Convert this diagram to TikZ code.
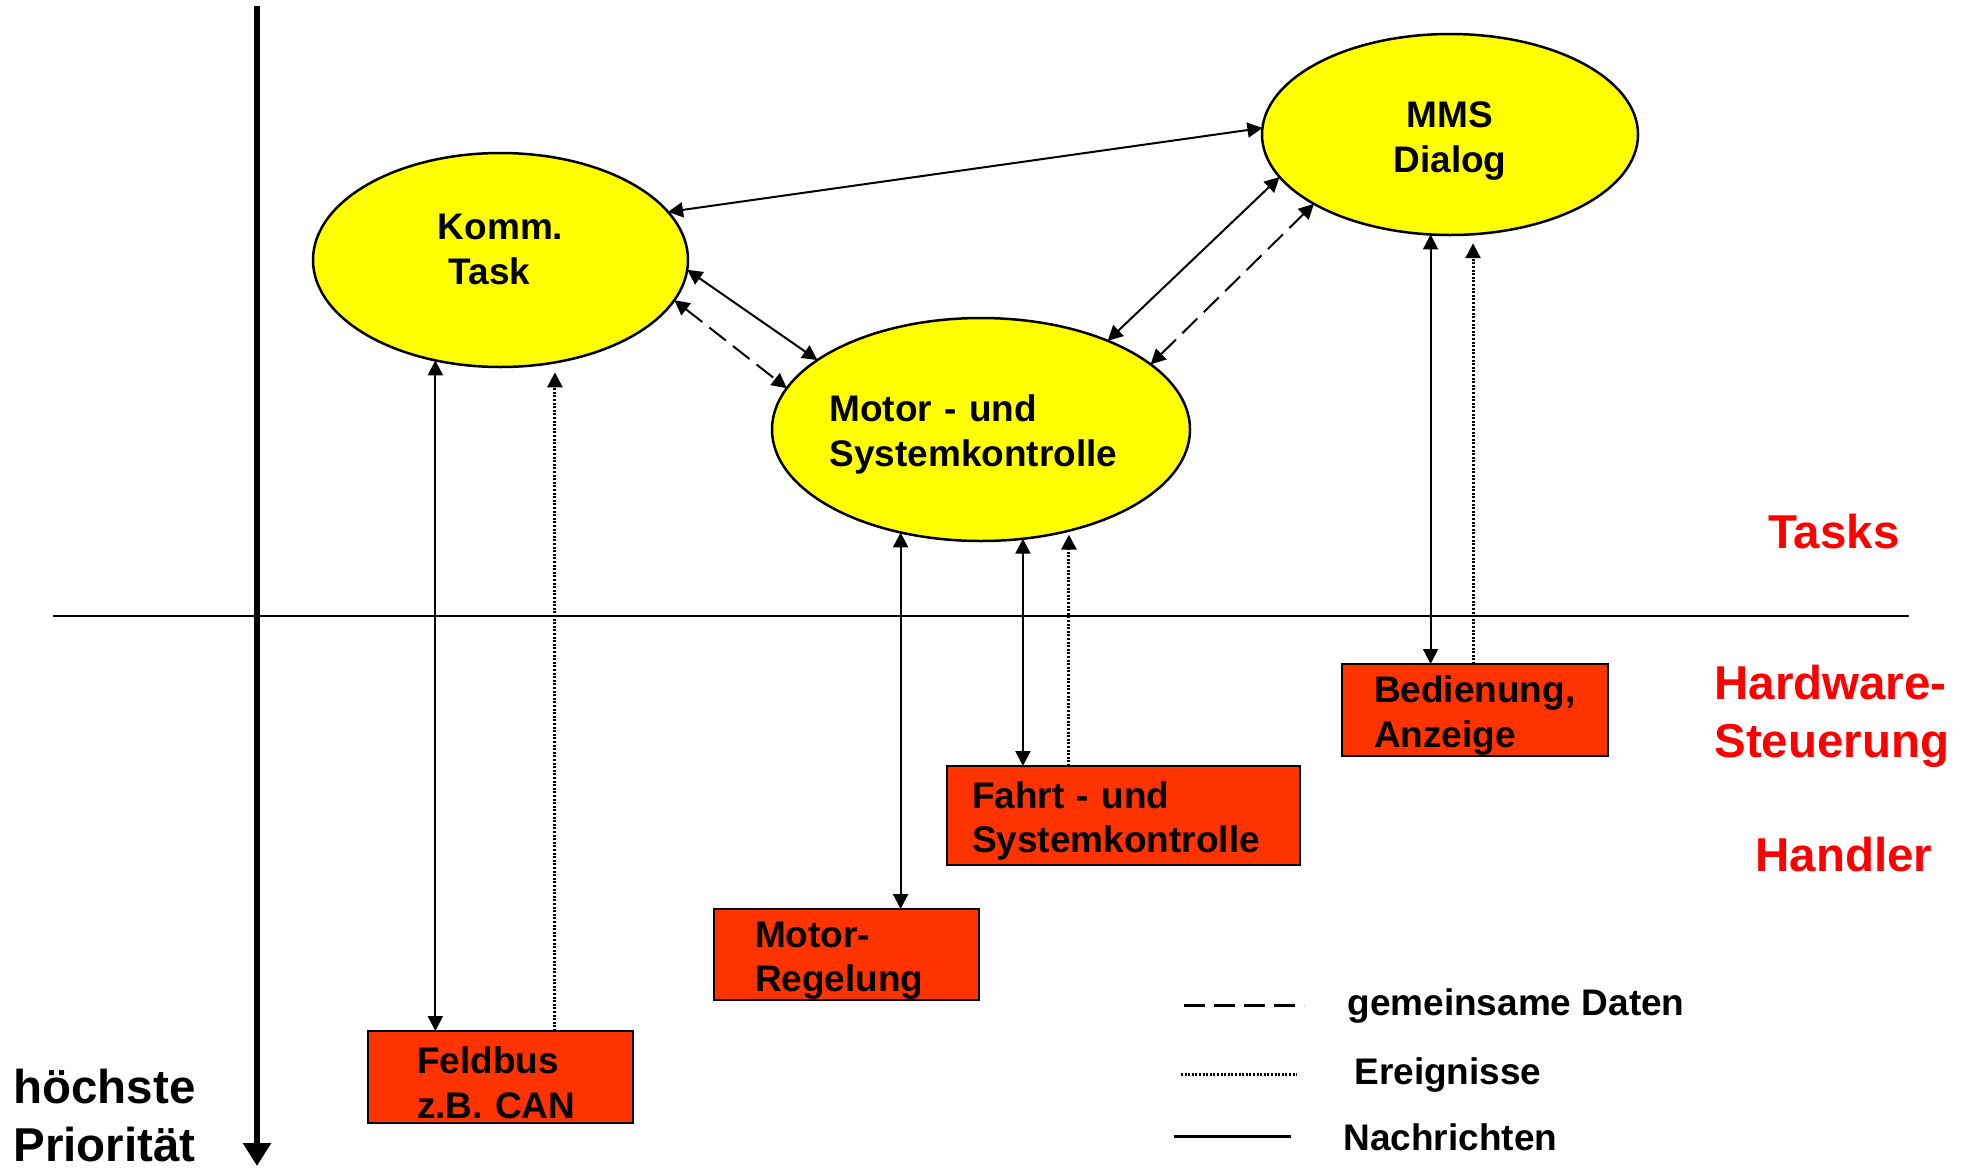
\documentclass[tikz,border=0pt]{standalone}
\usepackage{fontspec}
\setmainfont{Liberation Sans}
\usetikzlibrary{shapes.geometric,arrows.meta}
\definecolor{taskyellow}{RGB}{255,255,0}
\definecolor{handlerred}{RGB}{255,51,0}
\definecolor{layerred}{RGB}{255,0,0}
\newcommand{\nodefont}{\bfseries\fontsize{18.5pt}{22.3pt}\selectfont}
\newcommand{\layerfont}{\bfseries\fontsize{23.75pt}{28.8pt}\selectfont}
\hyphenpenalty=10000
\begin{document}
\begin{tikzpicture}[x=0.5pt,y=-0.5pt,
  >={Triangle[length=7.5pt,width=7.5pt]},
  task/.style={ellipse, draw, line width=1.25pt, fill=taskyellow,
    inner sep=0pt, outer sep=0pt, font=\nodefont},
  handler/.style={rectangle, draw, line width=1.25pt, fill=handlerred,
    inner ysep=0pt, outer sep=0pt, align=left, font=\nodefont,
    text height=19pt},
  msg/.style={line width=1pt, <->},
  shared/.style={line width=1pt, <->, dash pattern=on 10.5pt off 4.5pt},
  event/.style={line width=1.5pt, ->, dash pattern=on 1pt off 0.8pt},
  layer/.style={text=layerred, font=\layerfont, inner sep=0pt,
    anchor=base west, align=left},
  plain/.style={font=\nodefont, inner sep=0pt, anchor=base west, align=left}]

\useasboundingbox (0,0) rectangle (1964,1173);

% separation between task level and handler level
\coordinate (sepL) at (53,616);
\coordinate (sepR) at (1909,616);
\draw[line width=1.35pt] (sepL) -- (sepR);

% priority axis
\coordinate (prioTop) at (257,6);
\coordinate (prioBot) at (257,1166);
\draw[line width=3.3pt, -{Triangle[length=11.5pt,width=13.5pt]}] (prioTop) -- (prioBot);
\node[font=\layerfont, inner sep=0pt, anchor=base west, align=left] (prio)
  at (13,1161) {höchste\\Priorität};

% tasks
\node[task, minimum width=187.5pt, minimum height=107pt, align=left] (komm)
  at (500.5,260) {Komm.\\\hspace*{5.5pt}Task\rule[-10.75pt]{0pt}{10.75pt}};
\node[task, minimum width=188pt, minimum height=100.5pt, align=center,
  text width=60pt, text height=19.25pt] (mms)
  at (1450,134.5) {MMS\\Dialog};
\node[task, minimum width=209pt, minimum height=111.5pt, align=left,
  text width=151.5pt, inner xsep=-3pt, text height=18.5pt] (motor)
  at (981,429.5) {Motor - und\\Systemkontrolle};

% hardware handlers
\node[handler, text width=83.5pt, inner xsep=24.5pt, minimum height=46pt] (feld)
  at (500.5,1077) {Feldbus\\z.B. CAN};
\node[handler, text width=91.5pt, inner xsep=20.5pt, minimum height=45.5pt] (mreg)
  at (846.5,954.5) {Motor-\\Regelung};
\node[handler, text width=151.5pt, inner xsep=12.5pt, minimum height=49.5pt] (fahrt)
  at (1123.5,815.5) {Fahrt - und\\Systemkontrolle};
\node[handler, text width=101pt, inner xsep=16pt, minimum height=46pt] (bed)
  at (1475,710) {Bedienung,\\Anzeige};

% level labels
\node[layer] (tasks) at (1768,548) {Tasks};
\node[layer] (hwctl) at (1714,757) {Hardware-\\Steuerung};
\node[layer] (hdl) at (1755,871) {Handler};

% connections between tasks
\draw[msg] (komm.16.75) -- (mms.178.3);
\draw[msg] (komm.-3) -- (motor.157.5);
\draw[shared] (komm.-13.75) -- (motor.168.8);
\draw[msg] (motor.35.5) -- (mms.-166.9);
\draw[shared] (motor.21.8) -- (mms.-153.9);

% connections between tasks and handlers
\draw[msg] (komm.-123.15) -- (komm.-123.15 |- feld.north);
\draw[event, shorten >=5pt] (komm.-62 |- feld.north) -- (komm.-62);
\draw[msg] (motor.-128.2) -- (motor.-128.2 |- mreg.north);
\draw[msg] (motor.-69.4) -- (motor.-69.4 |- fahrt.north);
\draw[event, shorten >=2pt] (motor.-49.75 |- fahrt.north) -- (motor.-49.75);
\draw[msg] (mms.-101.87) -- (mms.-101.87 |- bed.north);
\draw[event, shorten >=4.5pt] (mms.-77.57 |- bed.north) -- (mms.-77.57);

% legend
\node[plain] (lgshared) at (1347,1015) {gemeinsame Daten};
\node[plain] (lgevent) at (1354,1084) {Ereignisse};
\node[plain] (lgmsg) at (1343,1150) {Nachrichten};
\draw[line width=1.3pt, dash pattern=on 10.5pt off 4.5pt]
  ([xshift=-81.5pt]lgshared.west) -- ([xshift=-21.5pt]lgshared.west);
\draw[line width=1.4pt, dash pattern=on 1pt off 0.8pt]
  ([xshift=-86.5pt]lgevent.west) -- ([xshift=-28.5pt]lgevent.west);
\draw[line width=1.3pt]
  ([xshift=-84.5pt]lgmsg.west) -- ([xshift=-26pt]lgmsg.west);
\end{tikzpicture}
\end{document}
